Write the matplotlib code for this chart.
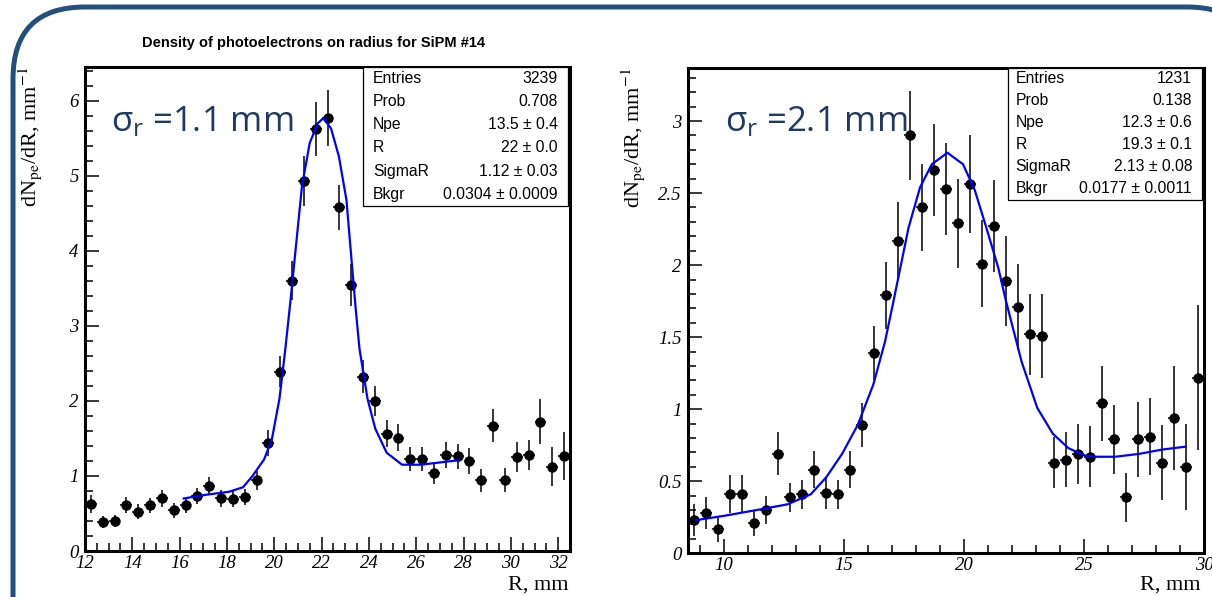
import matplotlib
matplotlib.use("Agg")
import matplotlib.pyplot as plt
from matplotlib.patches import FancyBboxPatch, Rectangle
from matplotlib.ticker import MultipleLocator

plt.rcParams['font.family'] = 'Liberation Serif'
plt.rcParams['mathtext.fontset'] = 'custom'
plt.rcParams['mathtext.rm'] = 'Open Sans'
plt.rcParams['mathtext.it'] = 'Open Sans'

# ---- left panel: SiPM #14, sigma_r = 1.1 mm ----
r_left = [12.25, 12.75, 13.25, 13.75, 14.25, 14.75, 15.25, 15.75, 16.25, 16.75,
          17.25, 17.75, 18.25, 18.75, 19.25, 19.75, 20.25, 20.75, 21.25, 21.75,
          22.25, 22.75, 23.25, 23.75, 24.25, 24.75, 25.25, 25.75, 26.25, 26.75,
          27.25, 27.75, 28.25, 28.75, 29.25, 29.75, 30.25, 30.75, 31.25, 31.75,
          32.25]
dens_left = [0.63, 0.39, 0.40, 0.61, 0.52, 0.61, 0.70, 0.54, 0.61, 0.73,
             0.86, 0.70, 0.69, 0.72, 0.94, 1.44, 2.39, 3.60, 4.93, 5.62,
             5.77, 4.58, 3.54, 2.32, 2.00, 1.56, 1.51, 1.23, 1.23, 1.04,
             1.28, 1.26, 1.20, 0.94, 1.67, 0.94, 1.25, 1.28, 1.72, 1.12,
             1.26]
err_left = [0.12, 0.08, 0.08, 0.11, 0.10, 0.10, 0.11, 0.10, 0.10, 0.11,
            0.12, 0.11, 0.11, 0.11, 0.13, 0.17, 0.21, 0.26, 0.33, 0.36,
            0.37, 0.30, 0.28, 0.22, 0.20, 0.18, 0.18, 0.16, 0.16, 0.15,
            0.17, 0.17, 0.17, 0.15, 0.22, 0.16, 0.20, 0.20, 0.30, 0.26,
            0.32]
fit_r_left = [16.17, 17.13, 18.10, 18.68, 19.08, 19.57, 19.90, 20.22, 20.47, 20.70,
              21.17, 21.50, 21.84, 22.08, 22.40, 22.73, 23.05, 23.30, 23.45, 23.60,
              23.94, 24.27, 24.75, 25.40, 26.20, 27.00, 27.80]
fit_y_left = [0.70, 0.75, 0.79, 0.85, 1.00, 1.22, 1.49, 2.03, 2.70, 3.38,
              4.86, 5.44, 5.70, 5.77, 5.63, 5.26, 4.68, 3.75, 3.20, 2.70,
              2.03, 1.63, 1.31, 1.15, 1.15, 1.18, 1.21]
xticks_left = [12, 14, 16, 18, 20, 22, 24, 26, 28, 30, 32]
xlabels_left = ['12', '14', '16', '18', '20', '22', '24', '26', '28', '30', '32']
yticks_left = [0, 1, 2, 3, 4, 5, 6]
ylabels_left = ['0', '1', '2', '3', '4', '5', '6']
stats_names_left = ['Entries', 'Prob', 'Npe', 'R', 'SigmaR', 'Bkgr']
stats_vals_left = ['3239', '0.708', '13.5 \u00b1 0.4', '22 \u00b1 0.0',
                   '1.12 \u00b1 0.03', '0.0304 \u00b1 0.0009']

# ---- right panel: sigma_r = 2.1 mm ----
r_right = [8.75, 9.25, 9.75, 10.25, 10.75, 11.25, 11.75, 12.25, 12.75, 13.25,
           13.75, 14.25, 14.75, 15.25, 15.75, 16.25, 16.75, 17.25, 17.75, 18.25,
           18.75, 19.25, 19.75, 20.25, 20.75, 21.25, 21.75, 22.25, 22.75, 23.25,
           23.75, 24.25, 24.75, 25.25, 25.75, 26.25, 26.75, 27.25, 27.75, 28.25,
           28.75, 29.25, 29.75]
dens_right = [0.23, 0.28, 0.17, 0.41, 0.41, 0.21, 0.30, 0.69, 0.39, 0.41,
              0.58, 0.42, 0.41, 0.58, 0.89, 1.39, 1.79, 2.17, 2.90, 2.40,
              2.66, 2.53, 2.29, 2.56, 2.01, 2.27, 1.89, 1.71, 1.52, 1.51,
              0.63, 0.65, 0.69, 0.67, 1.04, 0.79, 0.39, 0.79, 0.81, 0.63,
              0.94, 0.60, 1.22]
err_right = [0.11, 0.11, 0.09, 0.13, 0.13, 0.09, 0.10, 0.15, 0.10, 0.10,
             0.13, 0.11, 0.10, 0.13, 0.15, 0.19, 0.23, 0.27, 0.31, 0.30,
             0.32, 0.32, 0.31, 0.34, 0.30, 0.32, 0.31, 0.30, 0.28, 0.29,
             0.18, 0.19, 0.21, 0.21, 0.26, 0.24, 0.17, 0.26, 0.27, 0.26,
             0.36, 0.30, 0.50]
fit_r_right = [8.83, 10.00, 11.35, 12.65, 13.62, 14.27, 14.92, 15.57, 16.22, 16.71,
               17.05, 17.69, 18.17, 18.66, 19.31, 19.96, 20.45, 20.93, 21.43, 21.75,
               22.40, 23.05, 23.70, 24.35, 25.00, 25.50, 26.30, 27.30, 28.26, 29.23]
fit_y_right = [0.23, 0.26, 0.30, 0.34, 0.41, 0.53, 0.69, 0.89, 1.17, 1.47,
               1.74, 2.26, 2.54, 2.70, 2.78, 2.70, 2.52, 2.26, 1.98, 1.75,
               1.33, 1.01, 0.83, 0.73, 0.68, 0.67, 0.67, 0.69, 0.72, 0.74]
xticks_right = [10, 15, 20, 25, 30]
xlabels_right = ['10', '15', '20', '25', '30']
yticks_right = [0, 0.5, 1, 1.5, 2, 2.5, 3]
ylabels_right = ['0', '0.5', '1', '1.5', '2', '2.5', '3']
stats_names_right = ['Entries', 'Prob', 'Npe', 'R', 'SigmaR', 'Bkgr']
stats_vals_right = ['1231', '0.138', '12.3 \u00b1 0.6', '19.3 \u00b1 0.1',
                    '2.13 \u00b1 0.08', '0.0177 \u00b1 0.0011']

W, H = 1212, 597
fig = plt.figure(figsize=(W / 100, H / 100), dpi=100)


def fx(x):
    return x / W


def fy(y):
    return 1 - y / H


# slide frame (rounded blue border)
bg = fig.add_axes([0, 0, 1, 1], zorder=-5)
bg.set_xlim(0, W)
bg.set_ylim(H, 0)
bg.axis('off')
bg.add_patch(FancyBboxPatch((13, 7), 1246, 700,
                            boxstyle='round,pad=0,rounding_size=72',
                            fc='none', ec='#24507f', lw=3.6))

blue_text = '#1f3864'


def panel(px_box, r, dens, err, fit_r, fit_y, xlim, ylim,
          xticks, xlabels, xminor, yticks, ylabels, yminor,
          names, vals, box_frac, name_x, val_x, row_top, row_bot,
          ylab_x, xlab_right, sigma_txt, sigma_x):
    x0, y0, x1, y1 = px_box
    ax = fig.add_axes([fx(x0), fy(y1), (x1 - x0) / W, (y1 - y0) / H])
    ax.errorbar(r, dens, yerr=err, xerr=0.25, fmt='o', color='k', ms=6.5,
                elinewidth=1.1, capsize=0, zorder=3)
    ax.plot(fit_r, fit_y, color='#0000ff', lw=1.6, zorder=4)
    ax.set_xlim(*xlim)
    ax.set_ylim(*ylim)
    ax.set_xticks(xticks)
    ax.set_xticklabels(xlabels, fontstyle='italic', fontsize=13.5)
    ax.set_yticks(yticks)
    ax.set_yticklabels(ylabels, fontstyle='italic', fontsize=13.5)
    ax.xaxis.set_minor_locator(MultipleLocator(xminor))
    ax.yaxis.set_minor_locator(MultipleLocator(yminor))
    ax.tick_params(which='both', direction='in', top=False, right=False, width=1.1)
    ax.tick_params(which='major', length=10)
    ax.tick_params(which='minor', length=5.5)
    ax.tick_params(axis='x', pad=3)
    ax.tick_params(axis='y', pad=4.5)
    for s in ax.spines.values():
        s.set_linewidth(2.2)

    # stats box
    bx0, by0 = box_frac
    ax.add_patch(Rectangle((bx0, by0), 0.996 - bx0, 1 - by0, transform=ax.transAxes,
                           fc='white', ec='k', lw=0.9, zorder=6))
    step = (row_bot - row_top) / len(names)
    for i, (nm, vl) in enumerate(zip(names, vals)):
        yy = row_top + (i + 0.5) * step
        fig.text(fx(name_x), fy(yy), nm, ha='left', va='center', fontsize=11.3,
                 family='Liberation Sans', zorder=7)
        fig.text(fx(val_x), fy(yy), vl, ha='right', va='center', fontsize=11.3,
                 family='Liberation Sans', zorder=7)

    fig.text(fx(ylab_x), fy(y0), r'dN$_{\mathrm{pe}}$/dR, mm$^{\mathrm{-1}}$',
             rotation=90, ha='center', va='top', fontsize=16,
             family='Liberation Serif', math_fontfamily='stix')
    fig.text(fx(xlab_right), fy(585), 'R, mm', ha='right', va='center', fontsize=16,
             family='Liberation Serif')
    fig.text(fx(sigma_x), fy(131.7), sigma_txt, ha='left', va='baseline',
             fontsize=25, family='Open Sans', color=blue_text, zorder=8)
    return ax


panel((85, 67, 570, 551), r_left, dens_left, err_left, fit_r_left, fit_y_left,
      (12, 32.5), (0, 6.45), xticks_left, xlabels_left, 0.5,
      yticks_left, ylabels_left, 0.2,
      stats_names_left, stats_vals_left, (0.574, 0.713), 373, 557.6, 67, 205.7,
      30, 568, r'$\sigma_r$ =1.1 mm', 111)

panel((688, 67.7, 1204, 553.3), r_right, dens_right, err_right, fit_r_right, fit_y_right,
      (8.5, 30), (0, 3.37), xticks_right, xlabels_right, 1,
      yticks_right, ylabels_right, 0.1,
      stats_names_right, stats_vals_right, (0.62, 0.7276), 1015.7, 1192, 67.7, 200,
      633, 1201, r'$\sigma_r$ =2.1 mm', 725)

fig.text(fx(314), fy(43), 'Density of photoelectrons on radius for SiPM #14',
         ha='center', va='center', fontsize=10.5, fontweight='bold',
         family='Liberation Sans')

fig.savefig('out.png', dpi=100)
